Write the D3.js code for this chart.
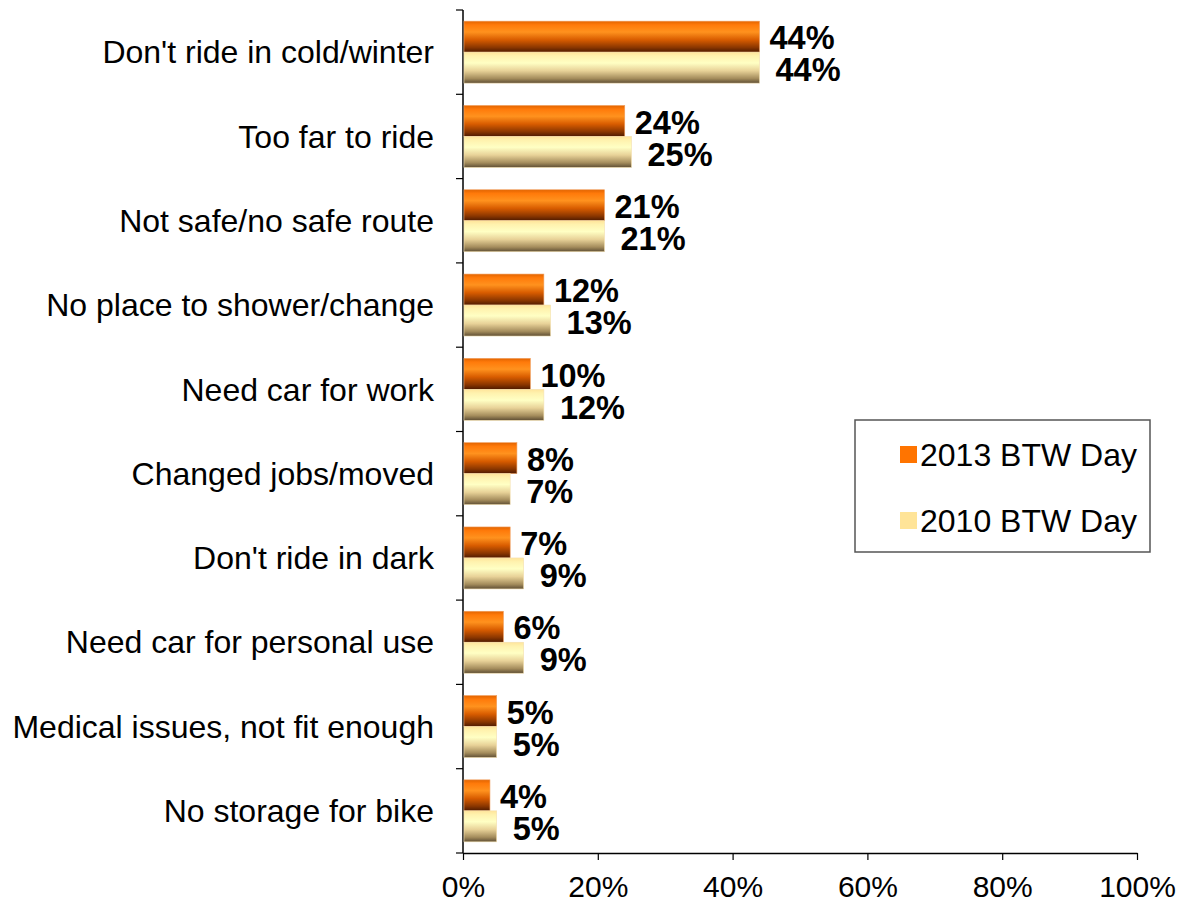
<!DOCTYPE html>
<html>
<head>
<meta charset="utf-8">
<script src="https://cdn.jsdelivr.net/npm/d3@7"></script>
<style>
  body { margin: 0; background: #fff; }
  text { font-family: "Liberation Sans", Arial, sans-serif; fill: #000; }
</style>
</head>
<body>
<div id="chart-area"></div>
<script>
// data
const categories = [
  "Don't ride in cold/winter",
  "Too far to ride",
  "Not safe/no safe route",
  "No place to shower/change",
  "Need car for work",
  "Changed jobs/moved",
  "Don't ride in dark",
  "Need car for personal use",
  "Medical issues, not fit enough",
  "No storage for bike"
]
const series = ["2013 BTW Day", "2010 BTW Day"]
const values2013 = [44, 24, 21, 12, 10, 8, 7, 6, 5, 4]
const values2010 = [44, 25, 21, 13, 12, 7, 9, 9, 5, 5]
const xTicks = [0, 20, 40, 60, 80, 100]

const MARGIN = { LEFT: 463, RIGHT: 44, TOP: 10, BOTTOM: 52 }
const WIDTH = 1181 - MARGIN.LEFT - MARGIN.RIGHT
const HEIGHT = 905 - MARGIN.TOP - MARGIN.BOTTOM

const svg = d3.select("#chart-area")
  .append("svg")
    .attr("width", 1181)
    .attr("height", 905)

// gradients for the bars
const defs = svg.append("defs")
const gradStops = {
  g2013: [[0, "#e26400"], [0.12, "#ff7a0a"], [0.35, "#ff921e"], [0.6, "#d85c00"], [0.85, "#8a3600"], [1, "#4e1a00"]],
  g2010: [[0, "#ffe49a"], [0.12, "#fff2ae"], [0.35, "#ffffc4"], [0.6, "#e8d298"], [0.85, "#a48c5c"], [1, "#5e4e34"]]
}
Object.entries(gradStops).forEach(([id, stops]) => {
  const lg = defs.append("linearGradient")
    .attr("id", id)
    .attr("x1", 0).attr("y1", 0).attr("x2", 0).attr("y2", 1)
  stops.forEach(s => lg.append("stop").attr("offset", s[0]).attr("stop-color", s[1]))
})

const g = svg.append("g")
  .attr("transform", `translate(${MARGIN.LEFT}, ${MARGIN.TOP})`)

// scales
const x = d3.scaleLinear().domain([0, 100]).range([0, WIDTH])
const y0 = d3.scaleBand().domain(categories).range([0, HEIGHT])
const y1 = d3.scaleBand().domain(series).range([0, y0.bandwidth()]).paddingOuter(0.36)

// x axis
const xAxis = g.append("g")
  .attr("transform", `translate(0, ${HEIGHT})`)
  .call(d3.axisBottom(x).tickValues(xTicks).tickSize(7).tickSizeOuter(0).tickPadding(16).tickFormat(d => d + "%"))
xAxis.select(".domain").attr("stroke", "#000").attr("stroke-width", 1.5)
xAxis.selectAll(".tick line").attr("stroke", "#000").attr("stroke-width", 1.2)
xAxis.selectAll("text").attr("font-size", "30px").attr("font-family", "Liberation Sans, Arial, sans-serif")

// y axis: ticks at band boundaries
g.append("line")
  .attr("x1", 0).attr("x2", 0).attr("y1", 0).attr("y2", HEIGHT)
  .attr("stroke", "#000").attr("stroke-width", 1.5)
const bounds = categories.map(c => y0(c)).concat([HEIGHT])
g.selectAll(".ytick")
  .data(bounds)
  .enter().append("line")
    .attr("class", "ytick")
    .attr("x1", -7).attr("x2", 0)
    .attr("y1", d => d).attr("y2", d => d)
    .attr("stroke", "#000").attr("stroke-width", 1.2)

g.selectAll(".cat-label")
  .data(categories)
  .enter().append("text")
    .attr("class", "cat-label")
    .attr("x", -29)
    .attr("y", d => y0(d) + y0.bandwidth() / 2)
    .attr("dy", "0.35em")
    .attr("text-anchor", "end")
    .attr("font-size", "32px")
    .text(d => d)

// bars
const rows = categories.map((c, i) => ({ c, v: [values2013[i], values2010[i]] }))
const groups = g.selectAll(".cat")
  .data(rows)
  .enter().append("g")
    .attr("transform", d => `translate(0, ${y0(d.c)})`)

groups.selectAll("rect")
  .data(d => series.map((s, j) => ({ s, v: d.v[j] })))
  .enter().append("rect")
    .attr("x", 1)
    .attr("y", d => y1(d.s))
    .attr("width", d => x(d.v) - 1)
    .attr("height", y1.bandwidth())
    .attr("fill", (d, j) => j === 0 ? "url(#g2013)" : "url(#g2010)")
    .attr("stroke", (d, j) => j === 0 ? "#f0a060" : "#f4e0b0")
    .attr("stroke-width", 0.6)

groups.selectAll(".val")
  .data(d => series.map((s, j) => ({ s, v: d.v[j], j })))
  .enter().append("text")
    .attr("class", "val")
    .attr("x", d => x(d.v) + (d.j === 0 ? 10 : 16))
    .attr("y", d => y1(d.s) + y1.bandwidth() / 2 + (d.j === 0 ? 1 : 2))
    .attr("dy", "0.36em")
    .attr("font-size", "32.5px")
    .attr("font-weight", "bold")
    .text(d => d.v + "%")

// legend
const legend = svg.append("g").attr("transform", "translate(855, 420)")
legend.append("rect")
  .attr("width", 295).attr("height", 132)
  .attr("fill", "#fff").attr("stroke", "#555").attr("stroke-width", 1.5)
const legendColors = ["#ff7400", "#ffe498"]
series.forEach((s, i) => {
  const ly = 34 + i * 66
  legend.append("rect")
    .attr("x", 45).attr("y", ly - 8)
    .attr("width", 17).attr("height", 17)
    .attr("fill", legendColors[i])
  legend.append("text")
    .attr("x", 65).attr("y", ly)
    .attr("dy", "0.36em")
    .attr("font-size", "32px")
    .text(s)
})
</script>
</body>
</html>
